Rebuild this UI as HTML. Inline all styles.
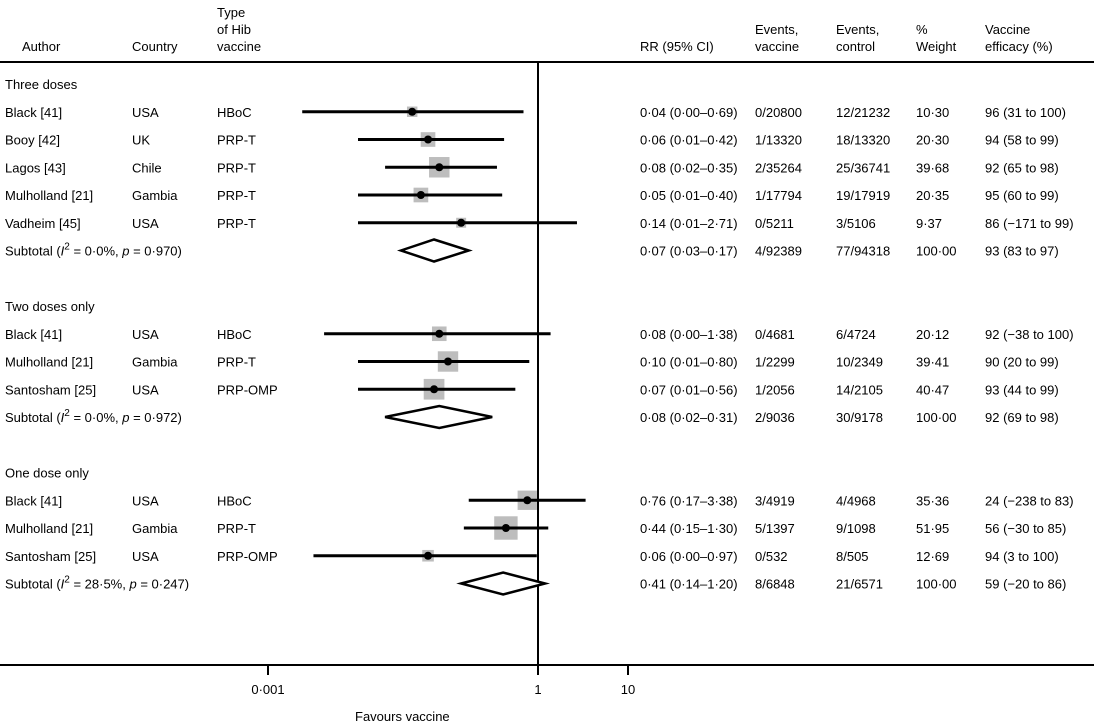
<!DOCTYPE html>
<html><head><meta charset="utf-8"><style>
html,body{margin:0;padding:0;background:#fff}
svg{display:block;font-family:"Liberation Sans",Arial,sans-serif;font-size:13px}
</style></head><body>
<svg id="c" width="1094" height="725" viewBox="0 0 1094 725">
<g>
<text x="22" y="51">Author</text>
<text x="132" y="51">Country</text>
<text x="217" y="17">Type</text>
<text x="217" y="34">of Hib</text>
<text x="217" y="51">vaccine</text>
<text x="640" y="51">RR (95% CI)</text>
<text x="755" y="34">Events,</text><text x="755" y="51">vaccine</text>
<text x="836" y="34">Events,</text><text x="836" y="51">control</text>
<text x="916" y="34">%</text><text x="916" y="51">Weight</text>
<text x="985" y="34">Vaccine</text><text x="985" y="51">efficacy (%)</text>
</g>
<line x1="0" y1="62" x2="1094" y2="62" stroke="#000" stroke-width="2"/>
<line x1="538" y1="62" x2="538" y2="665" stroke="#000" stroke-width="2"/>
<line x1="0" y1="665" x2="1094" y2="665" stroke="#000" stroke-width="2"/>
<g id="ax"></g>
<text x="355" y="721">Favours vaccine</text>
<g id="marks"></g>
<g id="txt"></g>
</svg>
<script>
const groups = ["Three doses","Two doses only","One dose only"];
const authors = [["Black [41]","Booy [42]","Lagos [43]","Mulholland [21]","Vadheim  [45]"],["Black [41]","Mulholland [21]","Santosham [25]"],["Black [41]","Mulholland [21]","Santosham [25]"]];
const countries = [["USA","UK","Chile","Gambia","USA"],["USA","Gambia","USA"],["USA","Gambia","USA"]];
const vaccines = [["HBoC","PRP-T","PRP-T","PRP-T","PRP-T"],["HBoC","PRP-T","PRP-OMP"],["HBoC","PRP-T","PRP-OMP"]];
const est = [[0.04,0.06,0.08,0.05,0.14],[0.08,0.10,0.07],[0.76,0.44,0.06]];
const lo = [[0.0024,0.01,0.02,0.01,0.01],[0.0042,0.01,0.01],[0.17,0.15,0.0032]];
const hi = [[0.69,0.42,0.35,0.40,2.71],[1.38,0.80,0.56],[3.38,1.30,0.97]];
const weights = [[10.30,20.30,39.68,20.35,9.37],[20.12,39.41,40.47],[35.36,51.95,12.69]];
const rrLabels = [["0·04 (0·00–0·69)","0·06 (0·01–0·42)","0·08 (0·02–0·35)","0·05 (0·01–0·40)","0·14 (0·01–2·71)"],["0·08 (0·00–1·38)","0·10 (0·01–0·80)","0·07 (0·01–0·56)"],["0·76 (0·17–3·38)","0·44 (0·15–1·30)","0·06 (0·00–0·97)"]];
const evVac = [["0/20800","1/13320","2/35264","1/17794","0/5211"],["0/4681","1/2299","1/2056"],["3/4919","5/1397","0/532"]];
const evCtl = [["12/21232","18/13320","25/36741","19/17919","3/5106"],["6/4724","10/2349","14/2105"],["4/4968","9/1098","8/505"]];
const wLabels = [["10·30","20·30","39·68","20·35","9·37"],["20·12","39·41","40·47"],["35·36","51·95","12·69"]];
const effLabels = [["96 (31 to 100)","94 (58 to 99)","92 (65 to 98)","95 (60 to 99)","86 (−171 to 99)"],["92 (−38 to 100)","90 (20 to 99)","93 (44 to 99)"],["24 (−238 to 83)","56 (−30 to 85)","94 (3 to 100)"]];
const subEst = [0.07,0.08,0.41];
const subLo = [0.03,0.02,0.14];
const subHi = [0.17,0.31,1.20];
const subI2 = ["0·0%","0·0%","28·5%"];
const subP = ["0·970","0·972","0·247"];
const subRR = ["0·07 (0·03–0·17)","0·08 (0·02–0·31)","0·41 (0·14–1·20)"];
const subEv = ["4/92389","2/9036","8/6848"];
const subCtl = ["77/94318","30/9178","21/6571"];
const subEff = ["93 (83 to 97)","92 (69 to 98)","59 (−20 to 86)"];
const ticks = [0.001,1,10];
const tickLabels = ["0·001","1","10"];

const NS="http://www.w3.org/2000/svg";
const xs = v => 538 + 90*Math.log10(v);
const ys = i => 84 + i*27.75;
function mk(tag, attrs, parent){const e=document.createElementNS(NS,tag);for(const k in attrs)e.setAttribute(k,attrs[k]);parent.appendChild(e);return e;}
const ax=document.getElementById('ax'), M=document.getElementById('marks'), T=document.getElementById('txt');
ticks.forEach((t,i)=>{
  const l=mk('line',{x1:xs(t),x2:xs(t),y1:665,y2:675,stroke:'#000','stroke-width':2},ax);
  
  
  const tx=mk('text',{x:xs(t),y:694,'text-anchor':'middle'},ax);tx.textContent=tickLabels[i];
  
  
});
function txt(x,y,s,name){const e=mk('text',{x:x,y:y+5},T);e.textContent=s;
  
  
  return e;}
let row=0;
groups.forEach((g,gi)=>{
  txt(5,ys(row),g,'group-label');
  row++;
  authors[gi].forEach((a,j)=>{
    const y=ys(row);
    txt(5,y,a,'author');txt(132,y,countries[gi][j],'country');txt(217,y,vaccines[gi][j],'vaccine-type');
    txt(640,y,rrLabels[gi][j],'rr-ci');txt(755,y,evVac[gi][j],'events-vaccine');txt(836,y,evCtl[gi][j],'events-control');
    txt(916,y,wLabels[gi][j],'weight');txt(985,y,effLabels[gi][j],'efficacy');
    const s=3.25*Math.sqrt(weights[gi][j]);
    const b=mk('rect',{x:xs(est[gi][j])-s/2,y:y-s/2,width:s,height:s,fill:'#bdbdbd'},M);
    
    
    const l=mk('line',{x1:xs(lo[gi][j]),x2:xs(hi[gi][j]),y1:y,y2:y,stroke:'#000','stroke-width':3},M);
    
    
    const c=mk('circle',{cx:xs(est[gi][j]),cy:y,r:4,fill:'#000'},M);
    
    
    row++;
  });
  const y=ys(row);
  const st=mk('text',{x:5,y:y+5},T);
  
  
  st.innerHTML='Subtotal  (<tspan font-style="italic">I</tspan><tspan dy="-6" font-size="10">2</tspan><tspan dy="6"> = '+subI2[gi]+', </tspan><tspan font-style="italic">p</tspan> = '+subP[gi]+')';
  txt(640,y,subRR[gi],'subtotal-rr');txt(755,y,subEv[gi],'subtotal-events-vaccine');txt(836,y,subCtl[gi],'subtotal-events-control');
  txt(916,y,'100·00','subtotal-weight');txt(985,y,subEff[gi],'subtotal-efficacy');
  const d=mk('polygon',{points:`${xs(subLo[gi])},${y} ${xs(subEst[gi])},${y-11} ${xs(subHi[gi])},${y} ${xs(subEst[gi])},${y+11}`,fill:'#fff',stroke:'#000','stroke-width':2.5},M);
  
  
  row+=2;
});
</script>
</body></html>
